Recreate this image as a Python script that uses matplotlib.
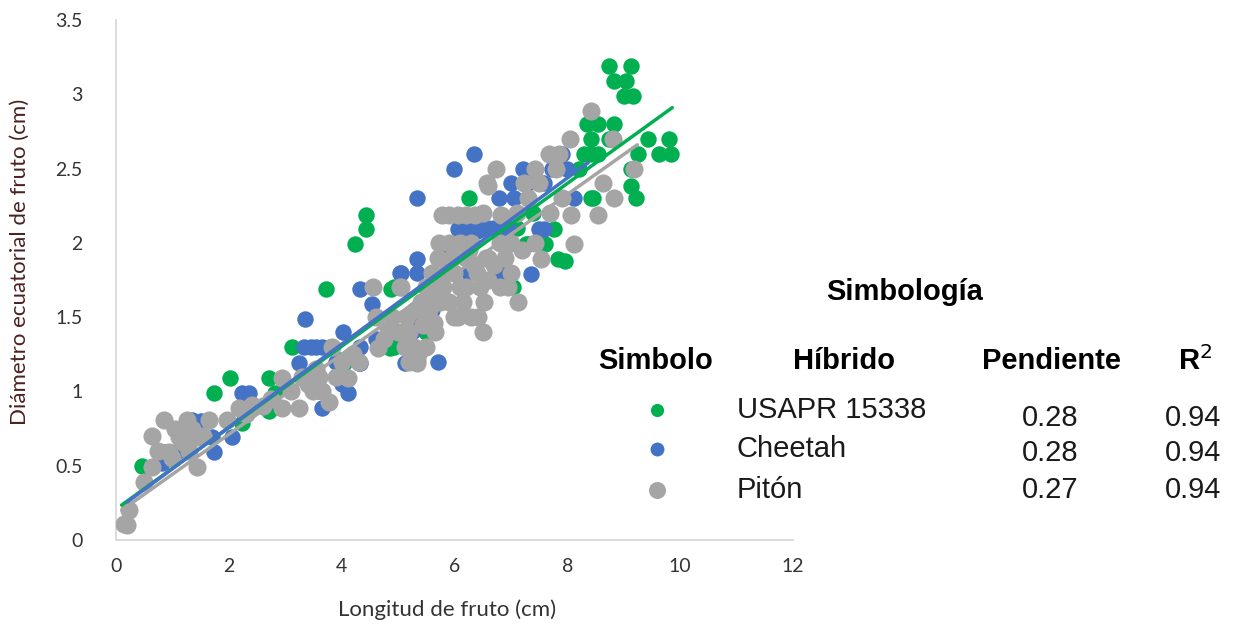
import matplotlib.pyplot as plt

# USAPR 15338
green_x = [0.46, 1.73, 2.02, 2.23, 2.71, 2.71, 2.82, 3.12, 3.73, 3.95, 4.05, 4.23, 4.44, 4.44,
           4.85, 4.88, 4.92, 4.92, 5.5, 6.25, 6.83, 7.04, 7.27, 7.31, 7.6, 7.77, 7.84, 7.95,
           8.42, 8.46, 8.2, 8.3, 8.55, 8.34, 8.55, 8.83, 8.42, 8.73, 8.73, 9.13, 8.83, 9.04,
           9.0, 9.17, 9.43, 9.81, 9.26, 9.63, 9.84, 9.13, 9.13, 9.22, 8.42, 7.1, 7.4]
green_y = [0.50, 0.99, 1.09, 0.79, 1.09, 0.87, 0.99, 1.30, 1.69, 1.21, 1.19, 1.99, 2.09, 2.19,
           1.29, 1.69, 1.30, 1.70, 1.40, 2.30, 1.79, 1.70, 1.99, 1.99, 1.99, 2.09, 1.89, 1.88,
           2.30, 2.30, 2.50, 2.60, 2.60, 2.80, 2.80, 2.80, 2.70, 2.70, 3.19, 3.19, 3.09, 3.09,
           2.99, 2.99, 2.70, 2.70, 2.60, 2.60, 2.60, 2.50, 2.38, 2.30, 2.60, 2.10, 2.20]

# Cheetah
blue_x = [0.81, 0.87, 1.1, 1.29, 1.35, 1.5, 1.70, 1.73, 2.05, 2.23, 2.35, 3.24, 3.33, 3.45,
          3.55, 3.65, 3.79, 3.35, 3.6, 3.65, 4.03, 4.12, 4.30, 4.32, 4.32, 4.32, 4.53, 4.6,
          5.03, 5.06, 5.12, 5.27, 5.29, 5.33, 5.33, 5.33, 5.5, 5.6, 5.8, 6.0, 6.07, 6.25,
          6.25, 6.34, 6.4, 6.48, 6.7, 6.78, 6.8, 6.9, 7.0, 7.06, 7.22, 7.3, 7.36, 7.49, 7.59,
          7.59, 7.72, 7.9, 8.0, 8.12, 3.9, 4.0, 5.7, 6.6, 6.95]
blue_y = [0.52, 0.59, 0.60, 0.79, 0.81, 0.80, 0.69, 0.59, 0.69, 0.99, 0.99, 1.19, 1.30, 1.30,
          1.30, 1.30, 1.30, 1.49, 1.00, 0.89, 1.40, 0.99, 1.19, 1.30, 1.19, 1.69, 1.59, 1.35,
          1.80, 1.80, 1.19, 1.41, 1.50, 1.89, 1.80, 2.30, 1.60, 1.55, 1.90, 2.50, 2.09, 1.80,
          2.09, 2.60, 2.08, 2.09, 2.10, 2.30, 1.80, 2.10, 2.40, 2.30, 2.50, 2.40, 1.79, 2.09,
          2.09, 2.40, 2.50, 2.60, 2.50, 2.30, 1.20, 1.05, 1.20, 2.10, 2.10]

# Pitón
gray_x = [0.14, 0.2, 0.23, 0.49, 0.64, 0.64, 0.85, 0.94, 1.0, 1.11, 1.2, 1.26, 1.3, 1.43,
          1.43, 1.64, 1.96, 2.18, 2.41, 2.6, 2.94, 2.94, 3.1, 3.24, 3.3, 3.5, 3.6, 3.65,
          3.77, 3.82, 3.9, 4.0, 4.12, 4.2, 4.56, 4.6, 4.65, 4.83, 4.9, 5.0, 5.03, 5.06, 5.12,
          5.2, 5.2, 5.29, 5.3, 5.33, 5.33, 5.4, 5.5, 5.5, 5.6, 5.63, 5.65, 5.7, 5.72, 5.77,
          5.8, 5.9, 5.9, 5.9, 6.0, 6.0, 6.07, 6.07, 6.1, 6.2, 6.2, 6.2, 6.3, 6.3, 6.36, 6.4,
          6.42, 6.5, 6.5, 6.53, 6.57, 6.6, 6.6, 6.74, 6.8, 6.83, 6.8, 6.9, 7.0, 7.0, 7.1,
          7.13, 7.24, 7.3, 7.42, 7.42, 7.5, 7.54, 7.68, 7.7, 7.8, 7.86, 7.9, 8.04, 8.07, 8.12,
          8.42, 8.55, 8.64, 8.81, 8.83, 9.19, 5.6, 6.1, 6.6,
          0.75, 1.05, 1.15, 1.35, 1.55, 2.3, 2.75, 3.4, 3.55, 4.3, 4.75, 5.15, 5.45, 5.55,
          5.75, 5.85, 6.15, 6.35, 6.45, 6.7, 6.95, 5.35, 5.7, 6.25, 6.55, 5.95, 7.2]
gray_y = [0.11, 0.10, 0.20, 0.39, 0.49, 0.70, 0.81, 0.59, 0.55, 0.69, 0.65, 0.81, 0.60, 0.69,
          0.49, 0.81, 0.81, 0.89, 0.91, 0.90, 1.09, 0.89, 1.00, 0.89, 1.10, 1.00, 1.10, 1.00,
          0.93, 1.30, 1.10, 1.20, 1.09, 1.25, 1.70, 1.50, 1.29, 1.41, 1.50, 1.40, 1.70, 1.70,
          1.30, 1.40, 1.20, 1.30, 1.55, 1.19, 1.21, 1.60, 1.70, 1.30, 1.80, 1.46, 1.40, 1.90,
          2.00, 2.19, 1.70, 2.00, 1.60, 2.19, 1.50, 1.80, 1.50, 2.19, 2.00, 1.90, 2.19, 1.70,
          1.50, 2.00, 2.19, 1.80, 1.50, 2.20, 1.40, 1.60, 2.40, 1.90, 2.38, 2.50, 2.00, 2.19,
          1.70, 1.90, 2.00, 1.80, 2.20, 1.60, 2.40, 2.30, 2.50, 2.00, 2.40, 1.89, 2.60, 2.20,
          2.50, 2.60, 2.30, 2.70, 2.19, 1.99, 2.89, 2.19, 2.40, 2.70, 2.30, 2.50, 1.60, 1.70,
          1.75,
          0.60, 0.75, 0.70, 0.75, 0.70, 0.85, 0.95, 1.05, 1.15, 1.20, 1.35, 1.50, 1.45, 1.55,
          1.60, 1.80, 1.60, 1.85, 1.70, 1.85, 1.70, 1.25, 1.70, 1.95, 1.90, 1.90, 1.95]

# trend lines (start and end points)
green_fit_x = [0.1, 9.86]
green_fit_y = [0.235, 2.91]
blue_fit_x = [0.2, 8.37]
blue_fit_y = [0.256, 2.54]
gray_fit_x = [0.1, 9.24]
gray_fit_y = [0.2, 2.66]

names = ["USAPR 15338", "Cheetah", "Pitón"]
slopes = ["0.28", "0.28", "0.27"]
r2 = ["0.94", "0.94", "0.94"]

c_green = "#00B050"
c_blue = "#4472C4"
c_gray = "#A5A5A5"

fig = plt.figure(figsize=(12.33, 6.29), dpi=100)
ax = fig.add_axes([116 / 1233, 89 / 629, (793 - 116) / 1233, (540 - 20) / 629])

ax.scatter(green_x, green_y, s=140, color=c_green, linewidths=0, zorder=2)
ax.scatter(blue_x, blue_y, s=140, color=c_blue, linewidths=0, zorder=3)
ax.scatter(gray_x, gray_y, s=170, color=c_gray, linewidths=0, zorder=4)

ax.plot(gray_fit_x, gray_fit_y, color=c_gray, lw=2.5, solid_capstyle="round", zorder=5)
ax.plot(green_fit_x, green_fit_y, color=c_green, lw=2.5, solid_capstyle="round", zorder=6)
ax.plot(blue_fit_x, blue_fit_y, color=c_blue, lw=2.5, solid_capstyle="round", zorder=7)

ax.set_xlim(0, 12)
ax.set_ylim(0, 3.5)
ax.set_xticks(range(0, 13, 2))
ax.set_yticks([0, 0.5, 1, 1.5, 2, 2.5, 3, 3.5])
ax.set_yticklabels(["0", "0.5", "1", "1.5", "2", "2.5", "3", "3.5"])
for s in ["top", "right"]:
    ax.spines[s].set_visible(False)
for s in ["left", "bottom"]:
    ax.spines[s].set_color("#D9D9D9")
    ax.spines[s].set_linewidth(1.3)
ax.tick_params(length=0, labelsize=14, colors="#333333")
ax.tick_params(axis="x", pad=13)
ax.tick_params(axis="y", pad=24)
for lab in ax.get_xticklabels() + ax.get_yticklabels():
    lab.set_family("Lato")

fig.text(447 / 1233, 1 - 610 / 629, "Longitud de fruto (cm)", ha="center", va="center",
         fontsize=16, family="Lato", color="#333333")
fig.text(20 / 1233, 1 - 262 / 629, "Diámetro ecuatorial de fruto (cm)", ha="center",
         va="center", rotation=90, fontsize=16, family="Lato", color="#4a2222")

# symbol table on the right
tf = "Liberation Sans"
fig.text(905 / 1233, 1 - 292 / 629, "Simbología", ha="center", va="center",
         fontsize=21, weight="bold", family=tf)
heads = [("Simbolo", 656), ("Híbrido", 844), ("Pendiente", 1052), ("R$^2$", 1195)]
for txt, px in heads:
    fig.text(px / 1233, 1 - 361 / 629, txt, ha="center", va="center",
             fontsize=21, weight="bold", family=tf)

row_y = [410, 449, 490]
num_y = [418, 453, 490]
sizes = [90, 100, 150]
colors = [c_green, c_blue, c_gray]
for i in range(3):
    fig.add_artist(plt.Line2D([657 / 1233], [1 - row_y[i] / 629], marker="o", linestyle="",
                              markersize=sizes[i] ** 0.5, color=colors[i],
                              markeredgewidth=0, transform=fig.transFigure))
    fig.text(737 / 1233, 1 - row_y[i] / 629, names[i], ha="left", va="center",
             fontsize=21, family=tf, color="#1a1a1a")
    fig.text(1050 / 1233, 1 - num_y[i] / 629, slopes[i], ha="center", va="center",
             fontsize=21, family=tf, color="#1a1a1a")
    fig.text(1193 / 1233, 1 - num_y[i] / 629, r2[i], ha="center", va="center",
             fontsize=21, family=tf, color="#1a1a1a")

fig.savefig("out.png", dpi=100)
